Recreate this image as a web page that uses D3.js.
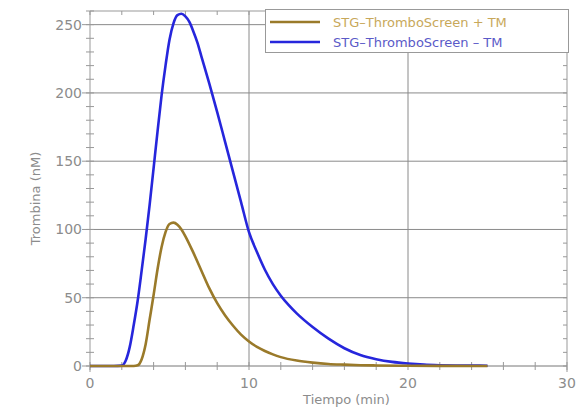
<!DOCTYPE html>
<html><head><meta charset="utf-8">
<script src="https://cdn.jsdelivr.net/npm/d3@7"></script>
<style>body{margin:0;background:#fff}svg{display:block}</style>
</head><body><svg id="c" width="585" height="410"></svg>
<script>
const seriesNames = ["STG\u2013ThromboScreen + TM", "STG\u2013ThromboScreen \u2013 TM"];
const timeMinus = [0,0.5,1,1.5,2,2.25,2.5,2.75,3,3.25,3.5,3.75,4,4.25,4.5,4.75,5,5.25,5.5,5.75,6,6.25,6.5,6.75,7,7.5,8,8.5,9,9.5,10,10.5,11,11.5,12,12.5,13,14,15,16,17,18,19,20,21,22,23,24,25];
const thrombinMinus = [0,0,0,0,0.3,4,14,30,48,70,93,118,145,172,198,220,239,251,257,258,256,252,245,237,227,207,186,164,142,120,98,83.5,70.5,60,51.5,44.5,38.5,28.5,20,13,8,5,3,1.8,1,0.6,0.4,0.3,0.2];
const timePlus = [0,0.5,1,1.5,2,2.5,2.75,3,3.25,3.5,3.75,4,4.25,4.5,4.75,5,5.25,5.5,5.75,6,6.5,7,7.5,8,8.5,9,9.5,10,10.5,11,11.5,12,13,14,15,16,17,18,20,22,25];
const thrombinPlus = [0,0,0,0,0,0,0,0.5,5,16,34,52,71,87,98,104,105,103.5,100,95,83,70,57,46,37,29.5,23,18,14,11,8.5,6.5,4,2.5,1.5,1,0.6,0.4,0.2,0.1,0];
const xTicks = [0,10,20,30];
const yTicks = [0,50,100,150,200,250];

const svg = d3.select("#c");
const L=90,R=567,T=11,B=366;
const x = d3.scaleLinear().domain([0,30]).range([L,R]);
const y = d3.scaleLinear().domain([0,260]).range([B,T]);
const gridC="#8a8a8a", axC="#999", txtC="#8c8c8c";
const font="'DejaVu Sans', sans-serif";

// grid
svg.append("g").selectAll("line").data(xTicks.filter(d=>d>0&&d<30)).join("line")
  .attr("x1",d=>x(d)).attr("x2",d=>x(d)).attr("y1",T).attr("y2",B)
  .attr("stroke",gridC).attr("stroke-width",1);
svg.append("g").selectAll("line").data(yTicks.filter(d=>d>0)).join("line")
  .attr("x1",L).attr("x2",R).attr("y1",d=>y(d)).attr("y2",d=>y(d))
  .attr("stroke",gridC).attr("stroke-width",1);

// frame
svg.append("line").attr("x1",L).attr("x2",L).attr("y1",T).attr("y2",B+6).attr("stroke",axC);
svg.append("line").attr("x1",R).attr("x2",R).attr("y1",T).attr("y2",B+6).attr("stroke",axC);
svg.append("line").attr("x1",L).attr("x2",R).attr("y1",T).attr("y2",T).attr("stroke",axC);
svg.append("line").attr("x1",L).attr("x2",R).attr("y1",B).attr("y2",B).attr("stroke","#777");

// minor ticks
const xMinor = d3.range(0,31,2);
svg.append("g").selectAll("line").data(xMinor).join("line")
  .attr("x1",d=>x(d)).attr("x2",d=>x(d)).attr("y1",B-4).attr("y2",B+4).attr("stroke",axC);
svg.append("g").selectAll("line").data(xMinor).join("line")
  .attr("x1",d=>x(d)).attr("x2",d=>x(d)).attr("y1",T).attr("y2",T+4).attr("stroke",axC);
const yMinor = d3.range(0,261,10);
svg.append("g").selectAll("line").data(yMinor).join("line")
  .attr("x1",x(0)-4).attr("x2",x(0)+4).attr("y1",d=>y(d)).attr("y2",d=>y(d)).attr("stroke",axC);
svg.append("g").selectAll("line").data(yMinor).join("line")
  .attr("x1",R-4).attr("x2",R).attr("y1",d=>y(d)).attr("y2",d=>y(d)).attr("stroke",axC);
svg.append("g").selectAll("line").data(yTicks).join("line")
  .attr("x1",L-8).attr("x2",L).attr("y1",d=>y(d)).attr("y2",d=>y(d)).attr("stroke",axC);

// tick labels
svg.append("g").selectAll("text").data(xTicks).join("text")
  .attr("x",d=>x(d)).attr("y",B+22).attr("text-anchor","middle")
  .attr("font-family",font).attr("font-size",14).attr("fill",txtC).text(d=>d);
svg.append("g").selectAll("text").data(yTicks).join("text")
  .attr("x",L-8).attr("y",d=>y(d)+5).attr("text-anchor","end")
  .attr("font-family",font).attr("font-size",14).attr("fill",txtC).text(d=>d);

// axis titles
svg.append("text").attr("x",(L+R)/2+18).attr("y",404).attr("text-anchor","middle")
  .attr("font-family",font).attr("font-size",13).attr("fill",txtC).text("Tiempo (min)");
svg.append("text").attr("transform",`translate(40,${(T+B)/2+10}) rotate(-90)`).attr("text-anchor","middle")
  .attr("font-family",font).attr("font-size",13).attr("fill",txtC).text("Trombina (nM)");

// curves
const line = d3.line().x(d=>x(d[0])).y(d=>y(d[1])).curve(d3.curveMonotoneX);
svg.append("path").datum(timeMinus.map((t,i)=>[t,thrombinMinus[i]])).attr("d",line)
  .attr("fill","none").attr("stroke","#2626dc").attr("stroke-width",2.6);
svg.append("path").datum(timePlus.map((t,i)=>[t,thrombinPlus[i]])).attr("d",line)
  .attr("fill","none").attr("stroke","#9a7a2a").attr("stroke-width",2.6);

// legend
const lg = svg.append("g");
lg.append("rect").attr("x",265.5).attr("y",9.5).attr("width",303).attr("height",43)
  .attr("fill","#fff").attr("stroke",axC);
const lcol=["#9a7a2a","#2626dc"], tcol=["#c8a85a","#5a5ac8"];
seriesNames.forEach((n,i)=>{
  const yy=22+i*20;
  lg.append("line").attr("x1",270).attr("x2",320).attr("y1",yy).attr("y2",yy).attr("stroke",lcol[i]).attr("stroke-width",2.6);
  lg.append("text").attr("x",333).attr("y",yy+5).attr("font-family",font).attr("font-size",13).attr("fill",tcol[i]).text(n);
});
</script></body></html>
